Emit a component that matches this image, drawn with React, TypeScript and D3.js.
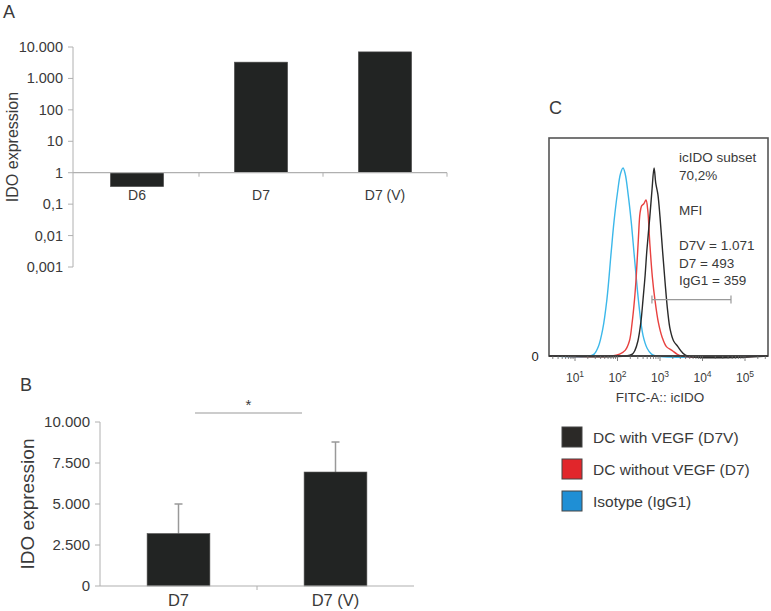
import React from "react";
import * as d3 from "d3";

// ---- Panel A data ----
const catsA = ["D6", "D7", "D7 (V)"];
const valsA = [0.36, 3300, 7000];
const ticksA = [0.001, 0.01, 0.1, 1, 10, 100, 1000, 10000];
const tickLabelsA = ["0,001", "0,01", "0,1", "1", "10", "100", "1.000", "10.000"];

// ---- Panel B data ----
const catsB = ["D7", "D7 (V)"];
const valsB = [3200, 6950];
const errB = [1800, 1830];
const ticksB = [0, 2500, 5000, 7500, 10000];
const tickLabelsB = ["0", "2.500", "5.000", "7.500", "10.000"];
const sigB = 10550;

// ---- Panel C data (log10 fluorescence, relative count) ----
const histBlue: [number, number][] = [
  [0.39, 0], [1.35, 0], [1.45, 1], [1.55, 5], [1.65, 14], [1.75, 30], [1.85, 55], [1.92, 72],
  [2.0, 87], [2.07, 97], [2.13, 100], [2.18, 97], [2.25, 86], [2.32, 72], [2.4, 52],
  [2.5, 28], [2.6, 11], [2.7, 4], [2.8, 1], [2.9, 0], [5.54, 0],
];
const histRed: [number, number][] = [
  [0.39, 0], [1.87, 0], [2.05, 1], [2.18, 3], [2.28, 8], [2.34, 17], [2.4, 30], [2.44, 42],
  [2.49, 62], [2.53, 76], [2.57, 80], [2.62, 81], [2.67, 83], [2.71, 78], [2.76, 60],
  [2.82, 42], [2.88, 30], [2.96, 18], [3.05, 10], [3.15, 5], [3.28, 3], [3.4, 1], [3.5, 0], [5.54, 0],
];
const histBlack: [number, number][] = [
  [0.39, 0], [2.2, 0], [2.35, 1], [2.41, 3], [2.48, 8], [2.55, 18], [2.6, 30], [2.65, 43],
  [2.69, 56], [2.76, 74], [2.81, 88], [2.86, 100], [2.9, 92], [2.95, 86], [3.0, 74],
  [3.06, 56], [3.12, 39], [3.18, 24], [3.24, 14], [3.32, 8], [3.42, 5], [3.52, 2], [3.64, 0], [5.54, 0],
];
const decadesC = [1, 2, 3, 4, 5];
const supC = ["1", "2", "3", "4", "5"];
const gateC = [2.81, 4.67];
const gateCount = 30;
const textC = ["icIDO subset", "70,2%", "", "MFI", "", "D7V = 1.071", "D7 = 493", "IgG1 = 359"];
const legendLabels = ["DC with VEGF (D7V)", "DC without VEGF (D7)", "Isotype (IgG1)"];
const legendColors = ["#2b2927", "#e1262b", "#1f8fd5"];
const lineColors = ["#2a2a2a", "#e8413f", "#3cb8ea"];

const FONT = "'Liberation Sans', Arial, sans-serif";
const TXT = "#3a3a3a";
const AX = "#b0b0b0";

export default function App() {
  // Panel A scales
  const yA = d3.scaleLog().domain([0.001, 10000]).range([267, 47]);
  const xA = d3.scaleBand().domain(catsA).range([75, 447]);
  const bwA = xA.bandwidth() * 0.43;

  // Panel B scales
  const yB = d3.scaleLinear().domain([0, 10000]).range([586, 422]);
  const xB = d3.scaleBand().domain(catsB).range([100, 414]);
  const bwB = xB.bandwidth() * 0.4;

  // Panel C scales
  const xC = d3.scaleLinear().domain([0.388, 5.541]).range([549, 768]);
  const yC = d3.scaleLinear().domain([0, 116]).range([356, 138]);
  const line = d3
    .line<[number, number]>()
    .x((d) => xC(d[0]))
    .y((d) => yC(d[1]))
    .curve(d3.curveCatmullRom.alpha(0.5));

  const minorC: number[] = [];
  for (let dec = 0; dec <= 5; dec++) {
    for (let m = 1; m <= 9; m++) {
      const l = dec + Math.log10(m);
      if (l >= 0.388 && l <= 5.541) minorC.push(l);
    }
  }

  const sigX1 = xB("D7")! + xB.bandwidth() * 0.605;
  const sigX2 = xB("D7 (V)")! + xB.bandwidth() * 0.287;

  return (
    <svg
      width={771}
      height={611}
      style={{ position: "absolute", left: 0, top: 0, background: "#fff" }}
      fontFamily={FONT}
    >
      {/* ===== Panel A ===== */}
      <text x={3} y={18} fontSize={18} fill={TXT}>A</text>
      <text
        transform={`translate(18,${(47 + 267) / 2 - 10}) rotate(-90)`}
        textAnchor="middle"
        fontSize={16}
        fill={TXT}
      >
        IDO expression
      </text>
      <line x1={73} x2={73} y1={yA(10000)} y2={yA(0.001)} stroke={AX} />
      {ticksA.map((t, i) => (
        <g key={i}>
          <line x1={68} x2={73} y1={yA(t)} y2={yA(t)} stroke={AX} />
          <text x={63} y={yA(t) + 5} textAnchor="end" fontSize={14.5} fill={TXT}>
            {tickLabelsA[i]}
          </text>
        </g>
      ))}
      {catsA.map((c, i) => {
        const cx = xA(c)! + xA.bandwidth() / 2;
        const v = valsA[i];
        const y0 = yA(1);
        const y1 = yA(v);
        return (
          <g key={c}>
            <rect
              x={cx - bwA / 2}
              y={Math.min(y0, y1)}
              width={bwA}
              height={Math.abs(y1 - y0)}
              fill="#222423"
              stroke="#555"
              strokeWidth={0.6}
            />
            <text x={cx} y={yA(1) + 27} textAnchor="middle" fontSize={14} fill={TXT}>
              {c}
            </text>
          </g>
        );
      })}
      <line x1={73} x2={447} y1={yA(1)} y2={yA(1)} stroke={AX} strokeWidth={1.2} />
      {catsA.slice(1).map((c) => (
        <line key={c} x1={xA(c)!} x2={xA(c)!} y1={yA(1)} y2={yA(1) + 4} stroke={AX} />
      ))}
      <line x1={447} x2={447} y1={yA(1)} y2={yA(1) + 4} stroke={AX} />

      {/* ===== Panel B ===== */}
      <text x={20} y={391} fontSize={18} fill={TXT}>B</text>
      <text
        transform={`translate(34,${(422 + 586) / 2}) rotate(-90)`}
        textAnchor="middle"
        fontSize={19}
        fill={TXT}
      >
        IDO expression
      </text>
      <line x1={100} x2={100} y1={yB(10000)} y2={yB(0)} stroke={AX} />
      {ticksB.map((t, i) => (
        <g key={i}>
          <line x1={95} x2={100} y1={yB(t)} y2={yB(t)} stroke={AX} />
          <text x={90} y={yB(t) + 5} textAnchor="end" fontSize={15} fill={TXT}>
            {tickLabelsB[i]}
          </text>
        </g>
      ))}
      {catsB.map((c, i) => {
        const cx = xB(c)! + xB.bandwidth() / 2;
        const v = valsB[i];
        return (
          <g key={c}>
            <line x1={cx} x2={cx} y1={yB(v)} y2={yB(v + errB[i])} stroke="#999" strokeWidth={1.5} />
            <line x1={cx - 4} x2={cx + 4} y1={yB(v + errB[i])} y2={yB(v + errB[i])} stroke="#999" strokeWidth={1.5} />
            <rect
              x={cx - bwB / 2}
              y={yB(v)}
              width={bwB}
              height={yB(0) - yB(v)}
              fill="#222423"
              stroke="#555"
              strokeWidth={0.6}
            />
            <text x={cx} y={yB(0) + 20} textAnchor="middle" fontSize={16.5} fill={TXT}>
              {c}
            </text>
          </g>
        );
      })}
      <line x1={100} x2={414} y1={yB(0)} y2={yB(0)} stroke={AX} strokeWidth={1.2} />
      <line x1={xB("D7 (V)")!} x2={xB("D7 (V)")!} y1={yB(0)} y2={yB(0) + 4} stroke={AX} />
      <line x1={sigX1} x2={sigX2} y1={yB(sigB)} y2={yB(sigB)} stroke="#999" strokeWidth={1.2} />
      <text x={(sigX1 + sigX2) / 2} y={yB(sigB) - 3} textAnchor="middle" fontSize={15} fill={TXT}>
        *
      </text>

      {/* ===== Panel C ===== */}
      <text x={549} y={114} fontSize={18} fill={TXT}>C</text>
      {[histBlue, histRed, histBlack].map((h, i) => (
        <path
          key={i}
          d={line(h)!}
          fill="none"
          stroke={[lineColors[2], lineColors[1], lineColors[0]][i]}
          strokeWidth={1.4}
        />
      ))}
      <rect x={549} y={138} width={219} height={218} fill="none" stroke="#555" strokeWidth={1.6} />
      <line x1={549} x2={768} y1={356} y2={356} stroke="#333" strokeWidth={1.6} />
      {minorC.map((l, i) => {
        const major = Math.abs(l - Math.round(l)) < 1e-9;
        return (
          <line key={i} x1={xC(l)} x2={xC(l)} y1={356} y2={356 + (major ? 5 : 3)} stroke="#666" strokeWidth={0.8} />
        );
      })}
      <text x={535} y={361} textAnchor="middle" fontSize={13} fill="#222">0</text>
      {decadesC.map((d, i) => (
        <text key={d} x={xC(d)} y={382} textAnchor="middle" fontSize={12} fill={TXT}>
          10<tspan fontSize={8.5} dy={-5}>{supC[i]}</tspan>
        </text>
      ))}
      <text x={660} y={402} textAnchor="middle" fontSize={13.5} fill={TXT}>FITC-A:: icIDO</text>
      {/* gate */}
      <line x1={xC(gateC[0])} x2={xC(gateC[1])} y1={yC(gateCount)} y2={yC(gateCount)} stroke="#999" strokeWidth={1.2} />
      {gateC.map((g, i) => (
        <line key={i} x1={xC(g)} x2={xC(g)} y1={yC(gateCount) - 4} y2={yC(gateCount) + 4} stroke="#999" strokeWidth={1.2} />
      ))}
      {textC.map((t, i) => (
        <text key={i} x={679} y={162 + i * 17.6} fontSize={13.5} fill={TXT}>
          {t}
        </text>
      ))}
      {/* legend */}
      {legendLabels.map((l, i) => (
        <g key={l}>
          <rect x={562} y={427 + i * 32} width={20} height={20} fill={legendColors[i]} stroke="#444" strokeWidth={1} />
          <text x={593} y={443 + i * 32} fontSize={15.5} fill={TXT}>
            {l}
          </text>
        </g>
      ))}
    </svg>
  );
}
